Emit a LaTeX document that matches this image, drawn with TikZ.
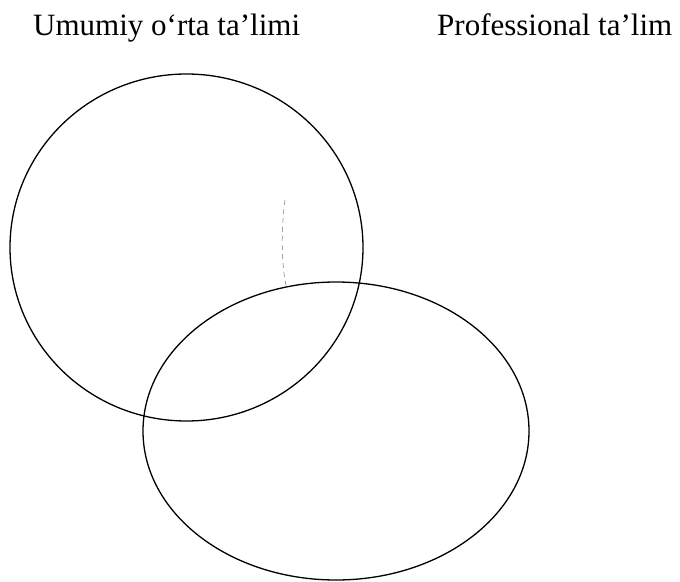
\documentclass[tikz,border=0pt]{standalone}
\usepackage{fontspec}
\setmainfont{Liberation Serif}
\usetikzlibrary{shapes.geometric, positioning}
\tikzset{
  title/.style={font=\fontsize{31}{36}\selectfont,inner sep=0pt,anchor=base west},
  setshape/.style={ellipse,draw=black,line width=1.3pt,inner sep=0pt},
  faint/.style={draw=black!55,line width=.5pt,dash pattern=on 5pt off 4pt},
}
\begin{document}
\begin{tikzpicture}[x=1pt,y=-1pt]
	    \useasboundingbox (0,0) rectangle (680,581);
	    \node[title] (umumiy) at (33,35) {Umumiy o‘rta ta’limi};
	    \node[title] (prof) at (437,35) {Professional ta’lim};
	    \node[setshape,minimum width=353pt,minimum height=347pt] (A) at (186.5,247.5) {};
	    \node[setshape,minimum width=386pt,minimum height=298pt] (B) at (336,431) {};
	    \coordinate (d1) at (285,200);
	    \coordinate (d2) at (287,290);
	    \draw[faint] (d1) .. controls (281,230) and (281,265) .. (d2);
	\end{tikzpicture}
\end{document}
